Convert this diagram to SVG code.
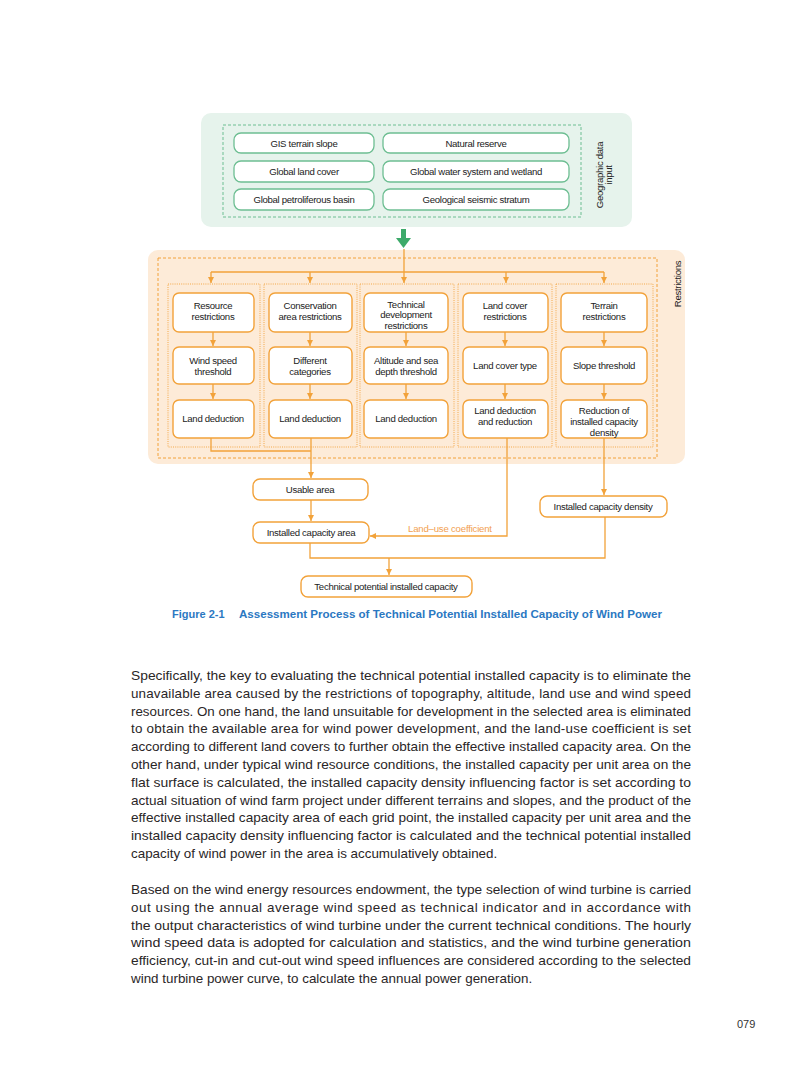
<svg xmlns="http://www.w3.org/2000/svg" width="793" height="1077" viewBox="0 0 793 1077">
<style>
.g{fill:#fff;stroke:#6DBE92;stroke-width:1.3}
.o{fill:#fff;stroke:#F2A23A;stroke-width:1.4}
.t{font-family:"Liberation Sans",Arial,sans-serif;font-size:9.6px;fill:#222;text-anchor:middle;letter-spacing:-0.3px}
.ln{fill:none;stroke:#F2A23A;stroke-width:1.3}
.body{font-family:"Liberation Sans",Arial,sans-serif;font-size:13.4px;fill:#2a2627}
.cap{font-family:"Liberation Sans",Arial,sans-serif;font-size:11px;font-weight:bold;fill:#2B78C2}
</style>
<defs>
<marker id="ah" viewBox="0 0 10 10" refX="10" refY="5" markerWidth="6" markerHeight="6" orient="auto" markerUnits="userSpaceOnUse">
<path d="M0,0 L10,5 L0,10 z" fill="#F2A23A"/>
</marker>
</defs>
<rect width="793" height="1077" fill="#fff"/>

<g id="geo-panel">
<rect x="201" y="113" width="431" height="114" rx="10" fill="#E6F3EC"/>
<rect x="223" y="125" width="358" height="92" fill="none" stroke="#6DBE92" stroke-width="1" stroke-dasharray="3,2"/>
<g transform="translate(603,175) rotate(-90)"><text class="t" x="0" y="0">Geographic data</text><text class="t" x="0" y="9">input</text></g>
</g>
<g id="gis"><rect class="g" x="234" y="133" width="140" height="20" rx="7"/><text class="t" x="304" y="146.5">GIS terrain slope</text></g>
<g id="natural"><rect class="g" x="383" y="133" width="186" height="20" rx="7"/><text class="t" x="476" y="146.5">Natural reserve</text></g>
<g id="landcover"><rect class="g" x="234" y="161" width="140" height="21" rx="7"/><text class="t" x="304" y="174.5">Global land cover</text></g>
<g id="water"><rect class="g" x="383" y="161" width="186" height="21" rx="7"/><text class="t" x="476" y="174.5">Global water system and wetland</text></g>
<g id="petro"><rect class="g" x="234" y="189" width="140" height="21" rx="7"/><text class="t" x="304" y="202.5">Global petroliferous basin</text></g>
<g id="seismic"><rect class="g" x="383" y="189" width="186" height="21" rx="7"/><text class="t" x="476" y="202.5">Geological seismic stratum</text></g>

<g id="green-arrow">
<rect x="401" y="229" width="5" height="10" fill="#3DAA6A"/>
<path d="M396,238 L411,238 L403.5,248 z" fill="#3DAA6A"/>
</g>

<g id="restr-panel">
<rect x="148" y="250" width="537" height="214" rx="10" fill="#FDEBD8"/>
<rect x="158" y="258" width="499" height="200" fill="none" stroke="#F2A23A" stroke-width="1" stroke-dasharray="3,2"/>
<rect x="168" y="284" width="92" height="163" fill="none" stroke="#F2A23A" stroke-width="0.9" stroke-dasharray="1,1.2"/>
<rect x="264" y="284" width="93" height="163" fill="none" stroke="#F2A23A" stroke-width="0.9" stroke-dasharray="1,1.2"/>
<rect x="360" y="284" width="94" height="163" fill="none" stroke="#F2A23A" stroke-width="0.9" stroke-dasharray="1,1.2"/>
<rect x="458" y="284" width="94" height="163" fill="none" stroke="#F2A23A" stroke-width="0.9" stroke-dasharray="1,1.2"/>
<rect x="556" y="284" width="97" height="163" fill="none" stroke="#F2A23A" stroke-width="0.9" stroke-dasharray="1,1.2"/>
<g transform="translate(681,284) rotate(-90)"><text class="t" x="0" y="0">Restrictions</text></g>
</g>

<g id="c1r1"><rect class="o" x="173" y="293" width="81" height="39" rx="6"/><text class="t" x="213" y="308.5">Resource</text><text class="t" x="213" y="319.5">restrictions</text></g>
<g id="c2r1"><rect class="o" x="269" y="293" width="83" height="39" rx="6"/><text class="t" x="310" y="308.5">Conservation</text><text class="t" x="310" y="319.5">area restrictions</text></g>
<g id="c3r1"><rect class="o" x="364" y="293" width="84" height="39" rx="6"/><text class="t" x="406" y="307.5">Technical</text><text class="t" x="406" y="317.5">development</text><text class="t" x="406" y="328.5">restrictions</text></g>
<g id="c4r1"><rect class="o" x="463" y="293" width="85" height="39" rx="6"/><text class="t" x="505" y="308.5">Land cover</text><text class="t" x="505" y="319.5">restrictions</text></g>
<g id="c5r1"><rect class="o" x="561" y="293" width="86" height="39" rx="6"/><text class="t" x="604" y="308.5">Terrain</text><text class="t" x="604" y="319.5">restrictions</text></g>

<g id="c1r2"><rect class="o" x="173" y="347" width="81" height="37" rx="6"/><text class="t" x="213" y="363.5">Wind speed</text><text class="t" x="213" y="374.5">threshold</text></g>
<g id="c2r2"><rect class="o" x="269" y="347" width="83" height="37" rx="6"/><text class="t" x="310" y="363.5">Different</text><text class="t" x="310" y="374.5">categories</text></g>
<g id="c3r2"><rect class="o" x="364" y="347" width="84" height="37" rx="6"/><text class="t" x="406" y="363.5">Altitude and sea</text><text class="t" x="406" y="374.5">depth threshold</text></g>
<g id="c4r2"><rect class="o" x="463" y="347" width="85" height="37" rx="6"/><text class="t" x="505" y="368.5">Land cover type</text></g>
<g id="c5r2"><rect class="o" x="561" y="347" width="86" height="37" rx="6"/><text class="t" x="604" y="368.5">Slope threshold</text></g>

<g id="c1r3"><rect class="o" x="173" y="400" width="81" height="38" rx="6"/><text class="t" x="213" y="421.5">Land deduction</text></g>
<g id="c2r3"><rect class="o" x="269" y="400" width="83" height="38" rx="6"/><text class="t" x="310" y="421.5">Land deduction</text></g>
<g id="c3r3"><rect class="o" x="364" y="400" width="84" height="38" rx="6"/><text class="t" x="406" y="421.5">Land deduction</text></g>
<g id="c4r3"><rect class="o" x="463" y="400" width="85" height="38" rx="6"/><text class="t" x="505" y="413.5">Land deduction</text><text class="t" x="505" y="424.5">and reduction</text></g>
<g id="c5r3"><rect class="o" x="561" y="400" width="86" height="38" rx="6"/><text class="t" x="604" y="413.5">Reduction of</text><text class="t" x="604" y="424.5">installed capacity</text><text class="t" x="604" y="435.5">density</text></g>

<g id="usable"><rect class="o" x="253" y="479" width="115" height="21" rx="7"/><text class="t" x="310" y="492.5">Usable area</text></g>
<g id="icarea"><rect class="o" x="253" y="522" width="116" height="21" rx="7"/><text class="t" x="311" y="535.5">Installed capacity area</text></g>
<g id="icdensity"><rect class="o" x="540" y="496" width="127" height="21" rx="7"/><text class="t" x="603" y="509.5">Installed capacity density</text></g>
<g id="tpic"><rect class="o" x="301" y="576" width="171" height="21" rx="7"/><text class="t" x="386" y="589.5">Technical potential installed capacity</text></g>

<g id="connectors">
<path class="ln" d="M404,249 V283" marker-end="url(#ah)"/>
<path class="ln" d="M211,272 H604"/>
<path class="ln" d="M211,272 V283" marker-end="url(#ah)"/>
<path class="ln" d="M310,272 V283" marker-end="url(#ah)"/>
<path class="ln" d="M506,272 V283" marker-end="url(#ah)"/>
<path class="ln" d="M604,272 V283" marker-end="url(#ah)"/>
<path class="ln" d="M213,332 V346" marker-end="url(#ah)"/>
<path class="ln" d="M310,332 V346" marker-end="url(#ah)"/>
<path class="ln" d="M406,332 V346" marker-end="url(#ah)"/>
<path class="ln" d="M505,332 V346" marker-end="url(#ah)"/>
<path class="ln" d="M604,332 V346" marker-end="url(#ah)"/>
<path class="ln" d="M213,384 V399" marker-end="url(#ah)"/>
<path class="ln" d="M310,384 V399" marker-end="url(#ah)"/>
<path class="ln" d="M406,384 V399" marker-end="url(#ah)"/>
<path class="ln" d="M505,384 V399" marker-end="url(#ah)"/>
<path class="ln" d="M604,384 V399" marker-end="url(#ah)"/>
<path class="ln" d="M211,438 V451 H311"/>
<path class="ln" d="M311,438 V478" marker-end="url(#ah)"/>
<path class="ln" d="M311,500 V521" marker-end="url(#ah)"/>
<path class="ln" d="M507,438 V536 H370" marker-end="url(#ah)"/>
<path class="ln" d="M604,438 V495" marker-end="url(#ah)"/>
<path class="ln" d="M310,543 V558 H605 V517"/>
<path class="ln" d="M389,558 V575" marker-end="url(#ah)"/>
<text x="408" y="532" font-family="Liberation Sans,Arial,sans-serif" font-size="9.6" fill="#F2A050" letter-spacing="-0.2">Land–use coefficient</text>
</g>

<text class="cap" x="172" y="618">Figure 2-1</text>
<text class="cap" x="239" y="618" textLength="423" lengthAdjust="spacingAndGlyphs">Assessment Process of Technical Potential Installed Capacity of Wind Power</text>

<g class="body">
<text x="131" y="680" textLength="560" lengthAdjust="spacingAndGlyphs">Specifically, the key to evaluating the technical potential installed capacity is to eliminate the</text>
<text x="131" y="697.8" textLength="560" lengthAdjust="spacing">unavailable area caused by the restrictions of topography, altitude, land use and wind speed</text>
<text x="131" y="715.6" textLength="560" lengthAdjust="spacingAndGlyphs">resources. On one hand, the land unsuitable for development in the selected area is eliminated</text>
<text x="131" y="733.4" textLength="560" lengthAdjust="spacing">to obtain the available area for wind power development, and the land-use coefficient is set</text>
<text x="131" y="751.2" textLength="560" lengthAdjust="spacingAndGlyphs">according to different land covers to further obtain the effective installed capacity area. On the</text>
<text x="131" y="769" textLength="560" lengthAdjust="spacingAndGlyphs">other hand, under typical wind resource conditions, the installed capacity per unit area on the</text>
<text x="131" y="786.8" textLength="560" lengthAdjust="spacingAndGlyphs">flat surface is calculated, the installed capacity density influencing factor is set according to</text>
<text x="131" y="804.6" textLength="560" lengthAdjust="spacingAndGlyphs">actual situation of wind farm project under different terrains and slopes, and the product of the</text>
<text x="131" y="822.4" textLength="560" lengthAdjust="spacingAndGlyphs">effective installed capacity area of each grid point, the installed capacity per unit area and the</text>
<text x="131" y="840.2" textLength="560" lengthAdjust="spacingAndGlyphs">installed capacity density influencing factor is calculated and the technical potential installed</text>
<text x="131" y="858">capacity of wind power in the area is accumulatively obtained.</text>
<text x="131" y="894" textLength="560" lengthAdjust="spacingAndGlyphs">Based on the wind energy resources endowment, the type selection of wind turbine is carried</text>
<text x="131" y="911.8" textLength="560" lengthAdjust="spacing">out using the annual average wind speed as technical indicator and in accordance with</text>
<text x="131" y="929.6" textLength="560" lengthAdjust="spacingAndGlyphs">the output characteristics of wind turbine under the current technical conditions. The hourly</text>
<text x="131" y="947.4" textLength="560" lengthAdjust="spacingAndGlyphs">wind speed data is adopted for calculation and statistics, and the wind turbine generation</text>
<text x="131" y="965.2" textLength="560" lengthAdjust="spacingAndGlyphs">efficiency, cut-in and cut-out wind speed influences are considered according to the selected</text>
<text x="131" y="983">wind turbine power curve, to calculate the annual power generation.</text>
</g>
<text x="737" y="1028" font-family="Liberation Sans,Arial,sans-serif" font-size="11" fill="#333">079</text>
</svg>
